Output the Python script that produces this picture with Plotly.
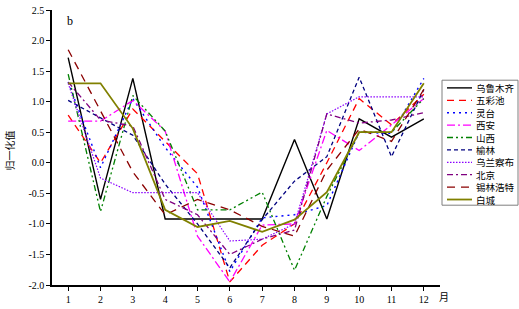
import plotly.graph_objects as go

months = list(range(1, 13))
month_labels = [str(m) for m in months]

s_wlmq = [1.72, -0.60, 1.38, -0.92, -0.92, -0.92, -0.92, 0.38, -0.92, 0.72, 0.42, 0.72]
s_wcc = [0.78, 0.00, 0.88, 0.35, -0.18, -1.95, -1.35, -1.00, 0.00, 1.05, 0.62, 1.12]
s_lt = [1.32, -0.08, 1.05, 0.25, -0.40, -1.78, -0.90, -0.85, -0.70, 0.50, 0.48, 1.38]
s_xa = [0.68, 0.68, 1.02, 0.52, -1.20, -1.95, -1.02, -1.00, 0.53, 0.20, 0.62, 1.05]
s_sx = [1.45, -0.80, 1.10, 0.52, -0.77, -0.77, -0.48, -1.76, -0.55, 0.50, 0.50, 1.05]
s_yl = [1.02, 0.73, 0.45, -0.35, -1.00, -1.72, -0.93, -0.30, 0.10, 1.40, 0.10, 1.20]
s_wlcb = [1.30, -0.25, -0.49, -0.49, -0.49, -1.28, -1.25, -1.00, 0.80, 1.08, 1.08, 1.08]
s_bj = [1.32, 0.70, 0.60, -0.60, -0.85, -1.50, -1.25, -1.10, 0.80, 0.65, 0.70, 0.82]
s_xlht = [1.85, 0.85, -0.15, -0.85, -0.60, -0.77, -1.04, -1.20, -0.12, 0.55, 0.35, 1.20]
s_bc = [1.30, 1.30, 0.56, -0.77, -1.05, -0.95, -1.13, -0.93, -0.48, 0.50, 0.50, 1.30]

names = ["乌鲁木齐", "五彩池", "灵台", "西安", "山西", "榆林", "乌兰察布", "北京", "锡林浩特", "白城"]
series = [s_wlmq, s_wcc, s_lt, s_xa, s_sx, s_yl, s_wlcb, s_bj, s_xlht, s_bc]

y_ticks = [-2.0, -1.5, -1.0, -0.5, 0.0, 0.5, 1.0, 1.5, 2.0, 2.5]
y_ticktext = ["%.1f" % v for v in y_ticks]

styles = [
    dict(color="#000000", dash="solid", width=1.4),
    dict(color="#FF0000", dash="7px,5px", width=1.3),
    dict(color="#0000FF", dash="2px,4px", width=1.4),
    dict(color="#FF00FF", dash="8px,3px,2px,3px", width=1.3),
    dict(color="#008000", dash="6px,3px,2px,3px,2px,3px", width=1.3),
    dict(color="#000080", dash="4px,3px", width=1.3),
    dict(color="#8B00FF", dash="1.5px,1.5px", width=1.2),
    dict(color="#800080", dash="6px,3px,2px,3px", width=1.3),
    dict(color="#8B0000", dash="8px,6px", width=1.3),
    dict(color="#808000", dash="solid", width=1.8),
]

fig = go.Figure()
for name, vals, st in zip(names, series, styles):
    fig.add_trace(go.Scatter(x=months, y=vals, mode="lines", name=name,
                             line=dict(color=st["color"], dash=st["dash"], width=st["width"]),
                             showlegend=False))

W, H = 519, 309
L, R, T, B = 52, 79, 4, 19
pw, ph = W - L - R, H - T - B

def px2paper(px, py):
    return (px - L) / pw, (H - B - py) / ph

# manual legend (compact, like the reference)
bx0, by0 = px2paper(442, 77)
bx1, by1 = px2paper(518, 207)
shapes = [dict(type="rect", xref="paper", yref="paper", x0=bx0, y0=by1, x1=bx1, y1=by0,
               line=dict(color="#7f7f7f", width=1), fillcolor="rgba(0,0,0,0)")]
annotations = []
for i, (name, st) in enumerate(zip(names, styles)):
    cy = 85 + i * 12.9
    x0, y0 = px2paper(447, cy)
    x1, _ = px2paper(472, cy)
    shapes.append(dict(type="line", xref="paper", yref="paper", x0=x0, y0=y0, x1=x1, y1=y0,
                       line=dict(color=st["color"], dash=st["dash"], width=st["width"])))
    tx, ty = px2paper(474, cy)
    annotations.append(dict(xref="paper", yref="paper", x=tx, y=ty, text=name, showarrow=False,
                            xanchor="left", yanchor="middle",
                            font=dict(family="Noto Sans CJK SC", size=9.5, color="#000")))

bxp, byp = px2paper(65, 15)
annotations.append(dict(xref="paper", yref="paper", x=bxp, y=byp, text="b", showarrow=False,
                        xanchor="left", yanchor="middle",
                        font=dict(family="Liberation Serif", size=12, color="#000")))
mx, my = px2paper(444, 302)
annotations.append(dict(xref="paper", yref="paper", x=mx, y=my, text="月", showarrow=False,
                        xanchor="center", yanchor="middle",
                        font=dict(family="Noto Sans CJK SC", size=10, color="#000")))
yx, yy = px2paper(9, 150)
annotations.append(dict(xref="paper", yref="paper", x=yx, y=yy, text="归一化值", showarrow=False,
                        textangle=-90, xanchor="center", yanchor="middle",
                        font=dict(family="Noto Sans CJK SC", size=10, color="#000")))

fig.update_layout(
    width=W, height=H,
    margin=dict(l=L, r=R, t=T, b=B),
    paper_bgcolor="white", plot_bgcolor="white",
    shapes=shapes, annotations=annotations,
    font=dict(family="Liberation Serif", size=10, color="#000"),
)
fig.update_xaxes(range=[0.5, 12.5], tickvals=months, ticktext=month_labels,
                 showgrid=False, zeroline=False, showline=True, linecolor="#000", linewidth=1.5,
                 ticks="outside", ticklen=4, tickcolor="#000", ticklabeloverflow="allow",
                 tickfont=dict(family="Liberation Serif", size=10))
fig.update_yaxes(range=[-2.0, 2.5], tickvals=y_ticks, ticktext=y_ticktext,
                 showgrid=False, zeroline=False, showline=True, linecolor="#000", linewidth=1.5,
                 ticks="outside", ticklen=4, tickcolor="#000", ticklabeloverflow="allow",
                 tickfont=dict(family="Liberation Serif", size=10))

fig.write_html("out.html", config={"displayModeBar": False},
               post_script="document.body.style.margin='0';document.body.style.overflow='hidden';")
